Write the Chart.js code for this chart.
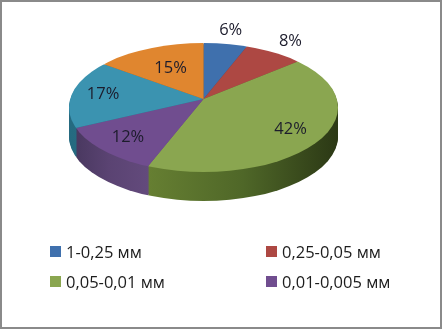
<!DOCTYPE html>
<html>
<head>
<meta charset="utf-8">
<script src="https://cdn.jsdelivr.net/npm/chart.js@4"></script>
<style>
  html, body { margin: 0; padding: 0; background: #fff; }
  #frame { position: relative; width: 442px; height: 329px; overflow: hidden; }
  #frame::after { content: ""; position: absolute; inset: 0; border: 2px solid #8a8a8a; pointer-events: none; }
  #myChart { position: absolute; left: 0; top: 0; }
  #legend {
    position: absolute; left: 50px; top: 240px; width: 385px;
    display: grid; grid-template-columns: 216px 169px; row-gap: 8px;
    font: 16.5px "Open Sans", sans-serif; color: #1c1c1c;
  }
  #legend div { display: flex; align-items: center; height: 22px; white-space: nowrap; }
  #legend span { width: 11px; height: 11px; margin-right: 5px; }
</style>
</head>
<body>
<div id="frame">
  <canvas id="myChart" width="442" height="329"></canvas>
  <div id="legend"></div>
</div>
<script>
// fractions, the last two classes have no visible legend entry in the picture
const categories = ["1-0,25 мм", "0,25-0,05 мм", "0,05-0,01 мм", "0,01-0,005 мм", "0,005-0,001 мм", "<0,001 мм"];
const percents = [6, 8, 42, 12, 17, 15];
const legendCount = 4;
const topColors = ["#3f70ad", "#ad4843", "#8aa650", "#704d8f", "#3b93b0", "#e0862f"];
const sideColors = [
  ["#2c4f7c", "#2c4f7c"],
  ["#7a322f", "#7a322f"],
  ["#667f32", "#4f6728", "#2b3815"],
  ["#46365c", "#5a4372", "#634a7c"],
  ["#256a80", "#2b7288"],
  ["#a3601f", "#a3601f"]
];
// how far out each label sits, as a share of the visible radius
const labelReach = [1.08, 1.1, 0.8, 0.82, 0.75, 0.54];

const tilt = 0.48;
const depth = 29;
const hubY = 99;      // the slices meet here, above the middle of the face (perspective)
const faceY = 107.5;
const faceRx = 134.5;
const faceRy = 64.5;
const radiusScale = 1.3; // slices are drawn oversize and clipped to the face

function tiltIn(chart) {
  const ctx = chart.ctx;
  const arc = chart.getDatasetMeta(0).data[0];
  ctx.beginPath();
  ctx.ellipse(arc.x, faceY, faceRx, faceRy, 0, 0, Math.PI * 2);
  ctx.clip();
  ctx.translate(arc.x, hubY);
  ctx.scale(1, tilt);
  ctx.translate(-arc.x, -arc.y);
}

const pie3d = {
  id: "pie3d",
  beforeDatasetsDraw(chart) {
    const ctx = chart.ctx;
    const arcs = chart.getDatasetMeta(0).data;
    const left = arcs[0].x - faceRx;
    const right = arcs[0].x + faceRx;

    // the rim, stacked copies of the slices from the bottom up
    arcs.forEach((arc, i) => {
      const g = ctx.createLinearGradient(i == 2 ? 148 : left, 0, i == 2 ? right : 148, 0);
      sideColors[i].forEach((c, n) => g.addColorStop(n / (sideColors[i].length - 1), c));
      arc.sideFill = g;
    });
    for (let d = depth; d > 0; d--) {
      ctx.save();
      ctx.translate(0, d);
      tiltIn(chart);
      arcs.forEach((arc) => {
        const top = arc.options.backgroundColor;
        arc.options.backgroundColor = arc.sideFill;
        arc.draw(ctx);
        arc.options.backgroundColor = top;
      });
      ctx.restore();
    }

    ctx.save();
    tiltIn(chart);
  },
  afterDatasetsDraw(chart) {
    const ctx = chart.ctx;
    ctx.restore();

    // percent labels
    ctx.save();
    ctx.font = '16.5px "Open Sans", sans-serif';
    ctx.fillStyle = "#1c1c2c";
    ctx.textAlign = "center";
    ctx.textBaseline = "middle";
    chart.getDatasetMeta(0).data.forEach((arc, i) => {
      const mid = (arc.startAngle + arc.endAngle) / 2;
      const r = faceRx * labelReach[i];
      ctx.fillText(percents[i] + "%", arc.x + r * Math.cos(mid), hubY + r * tilt * Math.sin(mid));
    });
    ctx.restore();
  }
};

const myChart = new Chart(document.getElementById("myChart"), {
  type: "pie",
  data: {
    labels: categories,
    datasets: [{ data: percents, backgroundColor: topColors, borderWidth: 0, clip: false }]
  },
  options: {
    responsive: false,
    animation: false,
    radius: (radiusScale * 100) + "%",
    layout: { padding: { left: 69, right: 104, top: 0, bottom: 60 } },
    plugins: { legend: { display: false }, tooltip: { enabled: false } }
  },
  plugins: [pie3d]
});

// legend only lists the first rows, like the original
const legendBox = document.getElementById("legend");
categories.slice(0, legendCount).forEach((name, i) => {
  const row = document.createElement("div");
  const mark = document.createElement("span");
  mark.style.background = topColors[i];
  row.appendChild(mark);
  row.appendChild(document.createTextNode(name));
  legendBox.appendChild(row);
});
</script>
</body>
</html>
